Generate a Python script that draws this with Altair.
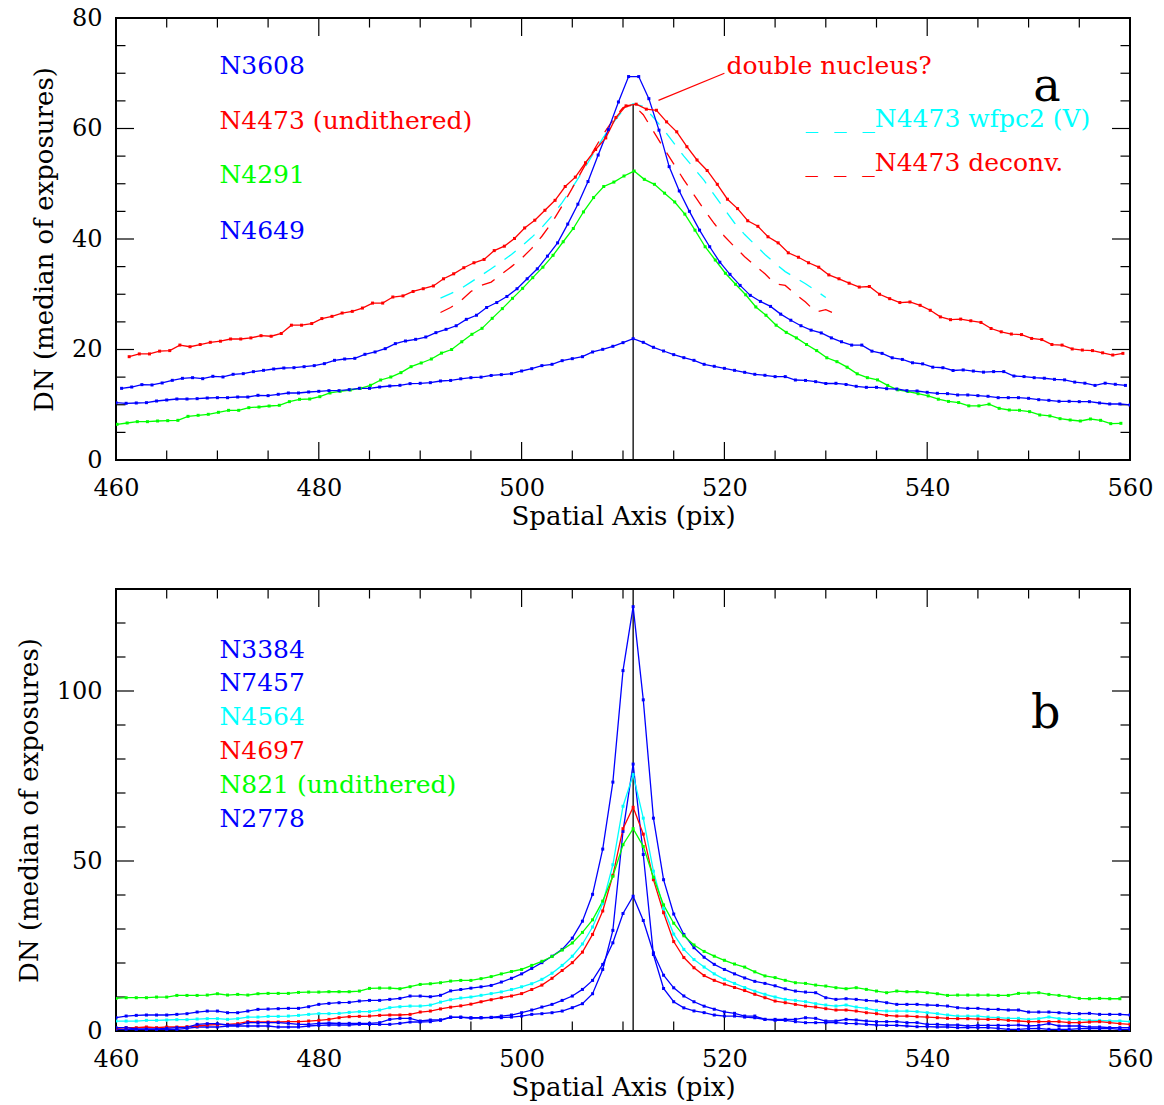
import altair as alt
import pandas as pd

FONT = "DejaVu Serif"
BLUE, RED, GREEN, CYAN = "#0000ff", "#ff0000", "#00ff00", "#00ffff"
NB = "\u00a0"

# ---------------- Panel a data ----------------
A_NAMES = ["N3608", "N4473 (undithered)", "N4291", "N4649"]
A_COLORS = [BLUE, RED, GREEN, BLUE]
A_X0 = [460.55, 461.3, 460.1, 460.0]   # x of first sample of each profile

A_N3608 = [12.97, 13.21, 13.64, 13.58, 13.94, 14.42, 14.78, 14.90, 14.72, 15.15,
           15.03, 15.51, 15.63, 15.99, 16.23, 16.47, 16.65, 16.71, 16.89, 17.08,
           17.44, 18.04, 18.28, 18.40, 19.13, 19.55, 20.15, 21.06, 21.54, 21.84,
           22.26, 23.05, 23.65, 24.3, 25.46, 26.2, 27.6, 28.5, 29.6, 31.0,
           32.8, 34.6, 36.9, 39.3, 42.7, 46.3, 50.4, 55.2, 59.8, 64.8,
           69.4, 69.4, 65.4, 59.7, 53.1, 48.7, 45.0, 41.6, 38.6, 35.8,
           33.6, 31.6, 29.8, 28.7, 27.8, 26.4, 25.3, 24.3, 23.5, 23.0,
           22.1, 21.4, 20.8, 20.8, 19.7, 19.3, 18.5, 18.2, 17.6, 17.4,
           16.8, 16.7, 16.2, 16.3, 16.1, 15.9, 16.0, 16.0, 15.2, 15.1,
           14.9, 14.8, 14.6, 14.5, 14.1, 13.9, 13.5, 13.9, 13.7, 13.5]
A_N4473 = [18.7, 19.2, 19.2, 19.7, 19.8, 20.8, 20.5, 20.9, 21.3, 21.5,
           21.9, 21.9, 22.1, 22.5, 22.4, 22.9, 24.4, 24.4, 24.7, 25.6,
           26.0, 26.6, 26.9, 27.5, 28.4, 28.4, 29.5, 29.7, 30.5, 31.0,
           31.5, 32.8, 33.7, 34.8, 35.7, 36.3, 37.9, 38.7, 40.1, 42.0,
           43.4, 45.2, 47.0, 49.5, 51.2, 53.8, 56.2, 58.3, 62.0, 64.1,
           64.4, 63.5, 63.3, 61.2, 59.4, 56.7, 54.3, 52.4, 49.9, 47.2,
           45.5, 43.3, 42.3, 40.4, 39.3, 37.5, 36.7, 35.7, 34.9, 33.5,
           32.8, 32.0, 31.3, 31.4, 30.0, 29.2, 28.5, 28.6, 28.0, 27.1,
           25.9, 25.4, 25.5, 25.2, 24.9, 23.8, 23.2, 22.8, 22.7, 22.0,
           21.8, 20.9, 20.8, 20.1, 19.9, 19.8, 19.4, 19.0, 19.3]
A_N4291 = [6.46, 6.70, 6.94, 6.94, 7.06, 7.12, 7.18, 7.90, 8.09, 8.27,
           8.63, 8.99, 8.99, 9.47, 9.59, 9.77, 9.90, 10.56, 10.98, 11.04,
           11.46, 12.13, 12.43, 12.67, 12.97, 13.52, 14.48, 15.02, 15.81, 16.89,
           17.56, 18.28, 19.35, 20.0, 21.4, 22.75, 23.83, 25.64, 27.4, 29.26,
           31.07, 33.0, 34.9, 37.05, 39.5, 41.9, 44.9, 47.5, 49.5, 50.3,
           51.4, 52.3, 50.8, 49.9, 48.3, 46.7, 44.5, 41.6, 38.6, 36.2,
           33.8, 31.8, 29.9, 27.7, 26.2, 24.4, 23.1, 22.1, 20.9, 19.8,
           18.5, 17.8, 16.8, 15.6, 14.9, 14.5, 13.5, 12.7, 12.4, 12.0,
           11.6, 11.0, 10.6, 10.4, 9.8, 9.8, 10.1, 9.35, 9.05, 9.0,
           8.75, 8.15, 7.97, 7.48, 7.24, 7.06, 7.42, 7.18, 6.58, 6.64]
A_N4649 = [10.38, 10.26, 10.32, 10.38, 10.68, 10.86, 11.04, 11.04, 11.10, 11.22,
           11.28, 11.28, 11.40, 11.40, 11.71, 11.65, 11.89, 12.13, 12.13, 12.31,
           12.43, 12.55, 12.55, 12.73, 12.97, 12.97, 13.21, 13.39, 13.52, 13.82,
           13.88, 14.0, 14.3, 14.4, 14.7, 14.9, 15.0, 15.3, 15.45, 15.63,
           16.11, 16.53, 17.08, 17.32, 17.98, 18.34, 18.7, 19.55, 20.03, 20.58,
           21.24, 21.96, 21.3, 20.4, 19.73, 19.07, 18.52, 18.04, 17.32, 16.96,
           16.59, 16.23, 15.87, 15.51, 15.33, 15.09, 15.09, 14.48, 14.4, 14.18,
           13.85, 13.88, 13.67, 13.34, 13.15, 13.15, 12.91, 12.85, 12.55, 12.49,
           12.25, 12.07, 12.01, 11.77, 11.77, 11.65, 11.53, 11.28, 11.28, 11.28,
           11.16, 10.92, 10.8, 10.62, 10.62, 10.56, 10.56, 10.32, 10.14, 10.14,
           9.96]

A_DASH_NAMES = ["N4473 wfpc2 (V)", "N4473 deconv."]
A_DASH_COLORS = [CYAN, RED]
A_DASH_X0 = [492, 492]
A_WFPC2 = [29.3, 30.1, 31.0, 32.2, 33.4, 34.6, 35.9, 37.2, 38.7, 40.3,
           42.1, 44.2, 46.6, 49.3, 52.2, 55.2, 58.2, 61.0, 63.3, 64.5,
           64.0, 62.0, 59.8, 57.4, 55.0, 52.8, 50.6, 48.0, 45.4, 42.9,
           40.8, 39.0, 37.2, 35.6, 34.1, 33.0, 31.9, 30.7, 29.4]
A_DECONV = [26.7, 27.6, 28.8, 30.5, 31.6, 32.2, 33.6, 35.0, 36.5, 38.3,
            40.5, 43.0, 46.0, 49.2, 52.5, 55.7, 58.8, 61.5, 63.8, 64.3,
            62.5, 59.5, 56.5, 53.6, 50.7, 48.0, 45.3, 42.8, 40.5, 38.6,
            36.8, 35.2, 33.7, 31.9, 31.6, 30.0, 28.6, 26.8, 27.2, 26.4]

DASH_SAMPLE = "_" + NB * 2 + "_" + NB * 2 + "_"
A_LABEL_TEXT = ["N3608", "N4473 (undithered)", "N4291", "N4649",
                DASH_SAMPLE + "N4473 wfpc2 (V)", DASH_SAMPLE + "N4473 deconv.",
                "double nucleus?"]
A_LABEL_SERIES = ["N3608", "N4473 (undithered)", "N4291", "N4649",
                  "N4473 wfpc2 (V)", "N4473 deconv.", "N4473 (undithered)"]
A_LABEL_X = [470.2, 470.2, 470.2, 470.2, 528.0, 528.0, 520.2]
A_LABEL_Y = [71.4, 61.4, 51.5, 41.5, 61.7, 53.7, 71.3]
A_ARROW = {"x": [520.0], "x2": [513.5], "y": [70.0], "y2": [65.1]}
A_CENTER = {"x": [511], "y0": [0], "y1": [64.4]}
A_LETTER = {"x": [551.8], "y": [65.0], "t": ["a"]}

# ---------------- Panel b data ----------------
B_NAMES = ["N3384", "N7457", "N4564", "N4697", "N821 (undithered)", "N2778"]
B_COLORS = [BLUE, BLUE, CYAN, RED, GREEN, BLUE]
B_X0 = [460, 460, 460, 460, 460, 460]

B_N3384 = [3.91, 4.4, 4.6, 4.7, 4.7, 4.7, 4.89, 5.09, 5.58, 5.87,
           5.87, 5.38, 5.38, 5.87, 6.36, 6.46, 6.56, 6.66, 6.66, 7.14,
           7.83, 8.12, 8.32, 8.42, 8.81, 9.0, 9.0, 9.3, 9.59, 10.28,
           10.28, 10.08, 10.5, 11.8, 12.2, 12.6, 13.0, 13.4, 14.4, 15.5,
           16.8, 18.4, 20.1, 22.0, 24.0, 27.3, 32.3, 40.2, 53.5, 73.2,
           106.0, 124.8, 97.4, 62.6, 44.5, 34.4, 28.4, 24.5, 21.7, 19.6,
           18.1, 16.8, 15.6, 14.6, 14.0, 13.3, 12.4, 11.75, 11.45, 11.26,
           9.79, 9.3, 9.5, 9.3, 9.0, 8.81, 8.32, 7.83, 7.83, 7.83,
           7.64, 7.54, 7.34, 6.85, 6.66, 6.66, 6.36, 6.36, 6.17, 6.17,
           5.58, 5.58, 5.58, 5.38, 5.19, 5.09, 5.19, 4.89, 4.89, 4.89,
           4.7]
B_N7457 = [0.49, 0.49, 0.49, 0.49, 0.49, 0.49, 0.49, 0.78, 1.17, 1.17,
           1.17, 1.47, 1.47, 1.47, 1.47, 1.47, 1.17, 1.17, 1.17, 1.47,
           1.66, 1.76, 1.76, 1.76, 1.96, 1.96, 1.96, 1.96, 2.25, 2.64,
           2.64, 2.74, 3.13, 4.0, 4.1, 3.9, 3.9, 4.0, 3.91, 4.11,
           4.4, 4.89, 5.09, 5.38, 5.87, 6.85, 8.03, 10.96, 18.11, 29.6,
           58.7, 78.5, 51.9, 22.5, 12.5, 8.6, 6.8, 5.9, 5.4, 4.7,
           4.4, 4.4, 4.1, 3.9, 3.42, 3.13, 3.13, 2.74, 2.45, 2.45,
           2.45, 2.45, 2.25, 2.15, 1.96, 1.76, 1.66, 1.66, 1.47, 1.27,
           1.27, 1.17, 1.17, 0.98, 0.98, 0.98, 0.98, 0.78, 0.49, 0.49,
           0.69, 0.78, 0.49, 0.49, 0.49, 0.69, 0.78, 0.69, 0.78, 0.49,
           0.49]
B_N4564 = [2.93, 2.93, 2.93, 3.13, 3.13, 3.23, 3.33, 3.33, 3.52, 3.62,
           3.62, 3.42, 3.62, 4.11, 4.11, 4.31, 4.31, 4.4, 4.6, 4.89,
           5.09, 5.09, 5.19, 5.48, 5.68, 5.68, 6.17, 6.85, 7.14, 7.34,
           7.34, 7.63, 8.5, 9.2, 9.7, 10.0, 10.5, 11.0, 11.5, 12.2,
           13.0, 13.9, 15.2, 17.0, 19.3, 22.0, 25.6, 30.6, 37.5, 48.9,
           66.1, 75.4, 62.6, 47.0, 36.0, 28.5, 24.0, 21.0, 18.8, 16.8,
           15.2, 14.0, 12.8, 11.7, 10.8, 10.0, 9.3, 9.0, 8.62, 8.03,
           7.64, 7.34, 7.64, 7.05, 6.66, 6.07, 5.87, 5.87, 5.87, 5.68,
           5.38, 5.09, 4.7, 4.4, 4.4, 4.4, 4.11, 3.91, 3.72, 3.72,
           3.42, 3.62, 4.11, 3.62, 3.42, 3.42, 3.13, 3.13, 2.94, 2.94,
           2.74]
B_N4697 = [0.78, 0.98, 0.98, 1.17, 0.98, 1.17, 1.17, 1.27, 1.47, 1.76,
           1.86, 1.96, 2.15, 2.74, 2.64, 2.64, 2.64, 2.74, 2.74, 2.93,
           3.13, 3.42, 3.91, 4.21, 4.31, 4.4, 4.6, 4.7, 4.7, 4.89,
           5.58, 5.87, 6.5, 7.0, 7.4, 7.9, 8.6, 9.2, 9.8, 10.3,
           11.0, 12.2, 13.5, 15.5, 17.8, 20.1, 23.2, 28.4, 35.3, 45.8,
           59.5, 65.8, 57.9, 44.5, 34.8, 26.3, 21.6, 18.6, 16.3, 14.9,
           13.8, 12.8, 11.9, 10.8, 9.79, 8.81, 8.32, 7.83, 7.34, 7.05,
           6.56, 6.17, 6.17, 5.87, 5.38, 5.09, 4.6, 4.4, 4.4, 4.21,
           4.11, 3.91, 3.72, 3.62, 3.62, 3.52, 3.42, 3.42, 3.13, 2.94,
           2.74, 2.74, 2.74, 2.74, 2.45, 2.45, 2.64, 2.74, 2.45, 2.15,
           1.96]
B_N821 = [9.59, 9.79, 9.79, 9.79, 9.98, 9.98, 10.47, 10.47, 10.47, 10.57,
          10.96, 10.57, 10.77, 10.57, 10.96, 11.06, 11.06, 11.06, 11.35, 11.45,
          11.45, 11.55, 11.55, 11.55, 11.75, 12.53, 12.63, 12.63, 12.43, 13.02,
          13.7, 13.9, 14.2, 14.68, 14.88, 14.88, 15.4, 16.0, 16.8, 17.5,
          18.1, 19.3, 20.5, 21.9, 23.8, 25.9, 29.0, 32.7, 38.2, 45.5,
          54.8, 59.5, 54.3, 45.2, 37.1, 31.7, 28.0, 25.3, 23.4, 22.0,
          20.8, 19.7, 18.8, 17.4, 16.2, 15.7, 14.9, 14.2, 14.0, 13.51,
          13.22, 12.73, 12.43, 12.73, 12.24, 11.75, 11.26, 11.75, 11.55, 11.55,
          11.26, 10.96, 10.47, 10.57, 10.57, 10.57, 10.57, 10.47, 10.47, 11.06,
          11.16, 11.26, 10.77, 10.47, 10.08, 9.59, 9.49, 9.59, 9.49, 9.49]
B_N2778 = [0.98, 0.98, 0.59, 0.59, 0.59, 0.78, 0.98, 1.07, 1.96, 2.15,
           2.15, 1.76, 1.76, 2.45, 2.45, 2.45, 2.45, 2.25, 1.96, 1.96,
           2.25, 2.35, 2.25, 2.25, 2.25, 2.25, 2.45, 3.42, 3.72, 3.72,
           2.94, 3.23, 3.3, 4.1, 4.0, 3.8, 3.9, 4.0, 4.4, 4.7,
           5.38, 6.17, 7.05, 7.83, 9.0, 10.28, 12.23, 14.88, 19.58, 25.94,
           34.55, 39.64, 32.5, 23.0, 16.4, 12.7, 10.3, 8.6, 7.3, 6.4,
           5.6, 5.2, 4.4, 4.4, 3.42, 3.42, 3.42, 3.42, 3.91, 3.72,
           2.94, 2.94, 3.42, 3.23, 2.94, 2.74, 2.74, 2.74, 2.45, 2.45,
           1.96, 1.96, 1.76, 1.76, 1.47, 1.66, 1.66, 1.66, 1.66, 1.76,
           1.47, 1.66, 2.15, 1.47, 1.47, 1.47, 1.17, 1.17, 0.98, 0.98,
           0.98]

B_LABEL_TEXT = ["N3384", "N7457", "N4564", "N4697", "N821 (undithered)", "N2778"]
B_LABEL_SERIES = B_NAMES
B_LABEL_X = [470.2] * 6
B_LABEL_Y = [112.2, 102.3, 92.4, 82.4, 72.4, 62.5]
B_CENTER = {"x": [511], "y0": [0], "y1": [130]}
B_LETTER = {"x": [551.7], "y": [89.0], "t": ["b"]}

# ---------------- axes ----------------
X_LABELS = [460, 480, 500, 520, 540, 560]
X_MINOR = [v for v in range(460, 561, 5) if v % 20 != 0]
A_Y_LABELS = [0, 20, 40, 60, 80]
A_Y_MINOR = [v for v in range(0, 81, 5) if v % 20 != 0]
B_Y_LABELS = [0, 50, 100]
B_Y_MINOR = [10, 20, 30, 40, 60, 70, 80, 90, 110, 120]

W, H = 1014, 442
TICK_MAJOR, TICK_MINOR = 18, 9.5


def frame(names, starts, arrays):
    rows = []
    for name, x0, vals in zip(names, starts, arrays):
        for i, v in enumerate(vals):
            rows.append({"series": name, "x": round(x0 + i, 3), "y": v})
    return pd.DataFrame(rows)


def panel(solid, dashed, labels, center, arrow, letter, ydomain, ymajor, yminor,
          cdomain, crange):
    xs = alt.Scale(domain=[460, 560], nice=False, zero=False)
    ys = alt.Scale(domain=ydomain, nice=False, zero=False)
    xax = alt.Axis(values=X_LABELS, format="d", ticks=False, tickSize=0, domain=False,
                   grid=False, labelFont=FONT, labelFontSize=24, labelColor="black",
                   labelPadding=16, labelFlush=False, labelOverlap=False,
                   title="Spatial Axis (pix)", titleFont=FONT, titleFontSize=26,
                   titleFontWeight="normal", titleColor="black", titlePadding=3)
    yax = alt.Axis(values=ymajor, format="d", ticks=False, tickSize=0, domain=False,
                   grid=False, labelFont=FONT, labelFontSize=24, labelColor="black",
                   labelPadding=14, labelFlush=False, labelOverlap=False,
                   title="DN (median of exposures)", titleFont=FONT, titleFontSize=26,
                   titleFontWeight="normal", titleColor="black", titlePadding=14)

    def X(f):
        return alt.X(f"{f}:Q", scale=xs, axis=xax)

    def Y(f):
        return alt.Y(f"{f}:Q", scale=ys, axis=yax)

    col = alt.Color("series:N", scale=alt.Scale(domain=cdomain, range=crange), legend=None)
    layers = []
    for vals, L in ((X_LABELS, TICK_MAJOR), (X_MINOR, TICK_MINOR)):
        d = pd.DataFrame({"v": vals})
        layers.append(alt.Chart(d).mark_rule(color="black", strokeWidth=1.2).encode(
            x=X("v"), y=alt.value(H), y2=alt.value(H - L)))
        layers.append(alt.Chart(d).mark_rule(color="black", strokeWidth=1.2).encode(
            x=X("v"), y=alt.value(0), y2=alt.value(L)))
    for vals, L in ((ymajor, TICK_MAJOR), (yminor, TICK_MINOR)):
        d = pd.DataFrame({"v": vals})
        layers.append(alt.Chart(d).mark_rule(color="black", strokeWidth=1.2).encode(
            y=Y("v"), x=alt.value(0), x2=alt.value(L)))
        layers.append(alt.Chart(d).mark_rule(color="black", strokeWidth=1.2).encode(
            y=Y("v"), x=alt.value(W), x2=alt.value(W - L)))

    layers.append(alt.Chart(pd.DataFrame(center)).mark_rule(
        color="black", strokeWidth=1.3).encode(x=X("x"), y=Y("y0"), y2="y1:Q"))

    if dashed is not None:
        layers.append(alt.Chart(dashed).mark_line(strokeWidth=1.3, strokeDash=[14, 11]).encode(
            x=X("x"), y=Y("y"), color=col))

    layers.append(alt.Chart(solid).mark_line(strokeWidth=1.3, clip=True).encode(
        x=X("x"), y=Y("y"), color=col))
    layers.append(alt.Chart(solid).mark_square(size=9, opacity=1, clip=True).encode(
        x=X("x"), y=Y("y"), color=col))

    if arrow is not None:
        layers.append(alt.Chart(pd.DataFrame(arrow)).mark_rule(
            color=RED, strokeWidth=1.2).encode(x=X("x"), x2="x2:Q", y=Y("y"), y2="y2:Q"))

    layers.append(alt.Chart(labels).mark_text(
        align="left", baseline="middle", font=FONT, fontSize=25).encode(
        x=X("x"), y=Y("y"), text="label:N", color=col))

    layers.append(alt.Chart(pd.DataFrame(letter)).mark_text(
        align="center", baseline="alphabetic", font=FONT, fontSize=46, color="black").encode(
        x=X("x"), y=Y("y"), text="t:N"))

    return alt.layer(*layers).properties(width=W, height=H)


a_solid = frame(A_NAMES, A_X0, [A_N3608, A_N4473, A_N4291, A_N4649])
a_dashed = frame(A_DASH_NAMES, A_DASH_X0, [A_WFPC2, A_DECONV])
a_labels = pd.DataFrame({"label": A_LABEL_TEXT, "series": A_LABEL_SERIES,
                         "x": A_LABEL_X, "y": A_LABEL_Y})
b_solid = frame(B_NAMES, B_X0, [B_N3384, B_N7457, B_N4564, B_N4697, B_N821, B_N2778])
b_labels = pd.DataFrame({"label": B_LABEL_TEXT, "series": B_LABEL_SERIES,
                         "x": B_LABEL_X, "y": B_LABEL_Y})

panel_a = panel(a_solid, a_dashed, a_labels, A_CENTER, A_ARROW, A_LETTER,
                [0, 80], A_Y_LABELS, A_Y_MINOR,
                A_NAMES + A_DASH_NAMES, A_COLORS + A_DASH_COLORS)
panel_b = panel(b_solid, None, b_labels, B_CENTER, None, B_LETTER,
                [0, 130], B_Y_LABELS, B_Y_MINOR, B_NAMES, B_COLORS)

chart = alt.vconcat(panel_a, panel_b, spacing=129, bounds="flush").resolve_scale(
    x="independent", y="independent", color="independent"
).properties(
    padding={"left": 15, "top": 5, "right": 4, "bottom": 0}
).configure_view(stroke="black", strokeWidth=2)

chart.save("out.html", embed_options={"renderer": "svg", "actions": False})
